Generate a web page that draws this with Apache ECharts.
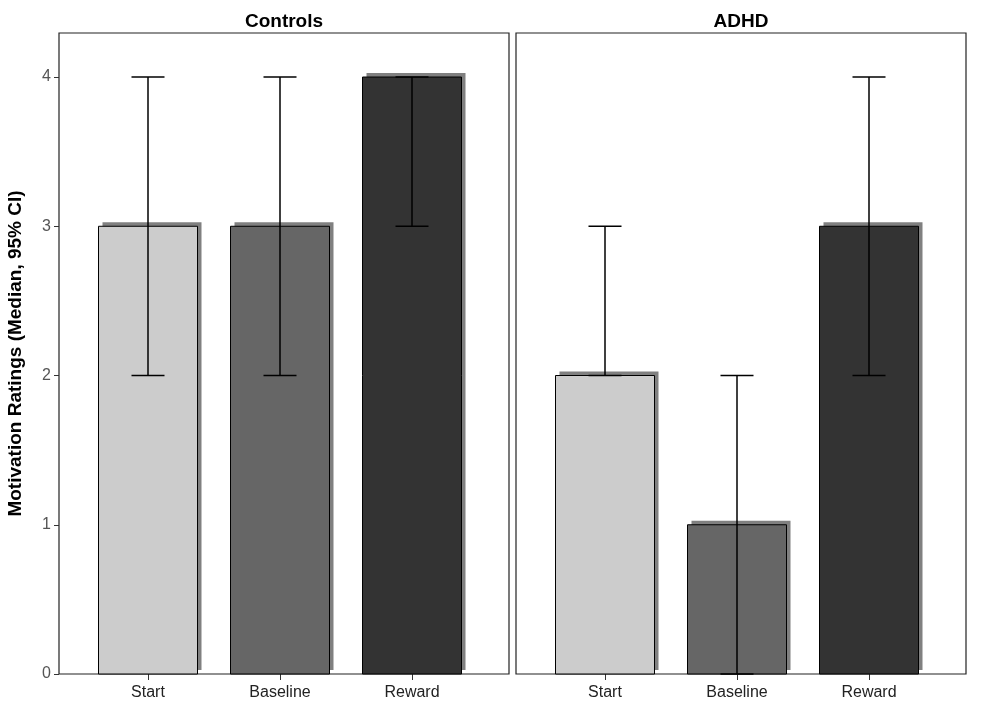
<!DOCTYPE html>
<html>
<head>
<meta charset="utf-8">
<script src="https://cdn.jsdelivr.net/npm/echarts@6/dist/echarts.min.js"></script>
<style>
  html, body { margin: 0; padding: 0; background: #fff; }
  #chart { width: 989px; height: 717px; }
</style>
</head>
<body>
<div id="chart"></div>
<script>
var categories = ['Start', 'Baseline', 'Reward'];
var panelNames = ['Controls', 'ADHD'];

// medians and 95% CI per group
var controlsMedian = [3, 3, 4];
var controlsLow = [2, 2, 3];
var controlsHigh = [4, 4, 4];

var adhdMedian = [2, 1, 3];
var adhdLow = [2, 0, 2];
var adhdHigh = [3, 2, 4];

var yTicks = [0, 1, 2, 3, 4];

(function(){
    var dom = document.getElementById('chart');
    var myChart = echarts.init(dom);
    var font = 'Liberation Sans';
    var barColors = ['#cccccc', '#666666', '#333333'];
    var yMax = 4.295; // leaves the gap above 4 like the original

    var frameTop = 33, frameBottom = 43;
    // outer frames (panel boxes), bar grids inside them
    var frames = [{left: 59, width: 450}, {left: 516, width: 450}];
    var barGrids = [{left: 82, width: 396}, {left: 539, width: 396}];

    function barSeries(gridIdx, values) {
        return {
            type: 'custom',
            xAxisIndex: gridIdx + 2, yAxisIndex: gridIdx + 2,
            z: 5,
            data: values.map(function (v, i) { return [i, v]; }),
            renderItem: function (params, api) {
                var i = api.value(0);
                var top = api.coord([i, api.value(1)]);
                var base = api.coord([i, 0]);
                var w = 99, h = base[1] - top[1], d = 4;
                return {
                    type: 'group',
                    children: [
                        {type: 'rect', shape: {x: top[0] - w / 2 + d, y: top[1] - d, width: w, height: h},
                            style: {fill: '#808080'}},
                        {type: 'rect', shape: {x: top[0] - w / 2, y: top[1], width: w, height: h},
                            style: {fill: barColors[i], stroke: '#000', lineWidth: 1}}
                    ]
                };
            }
        };
    }

    function errorSeries(gridIdx, low, high) {
        return {
            type: 'custom',
            xAxisIndex: gridIdx + 2, yAxisIndex: gridIdx + 2,
            z: 10,
            data: low.map(function (v, i) { return [i, v, high[i]]; }),
            renderItem: function (params, api) {
                var lo = api.coord([api.value(0), api.value(1)]);
                var hi = api.coord([api.value(0), api.value(2)]);
                var hw = 16.5;
                var st = {stroke: '#000', lineWidth: 1.5};
                return {
                    type: 'group',
                    children: [
                        {type: 'line', shape: {x1: lo[0], y1: lo[1], x2: hi[0], y2: hi[1]}, style: st},
                        {type: 'line', shape: {x1: lo[0] - hw, y1: lo[1], x2: lo[0] + hw, y2: lo[1]}, style: st},
                        {type: 'line', shape: {x1: hi[0] - hw, y1: hi[1], x2: hi[0] + hw, y2: hi[1]}, style: st}
                    ]
                };
            }
        };
    }

    var grid = [], xAxis = [], yAxis = [];
    frames.forEach(function (f, i) {
        grid.push({left: f.left, width: f.width, top: frameTop, bottom: frameBottom,
            show: true, borderColor: '#222', borderWidth: 1.2, backgroundColor: 'transparent'});
        xAxis.push({type: 'value', gridIndex: i, min: 0, max: 1, show: false});
        yAxis.push({
            type: 'value', gridIndex: i, min: 0, max: yMax,
            show: i === 0,
            splitLine: {show: false},
            axisLine: {show: false},
            axisTick: {show: true, length: 5, customValues: yTicks, lineStyle: {color: '#333'}},
            axisLabel: {customValues: yTicks, margin: 8, fontFamily: font, fontSize: 16, color: '#555'},
            name: 'Motivation Ratings (Median, 95% CI)',
            nameLocation: 'middle',
            nameGap: 34,
            nameTextStyle: {fontFamily: font, fontSize: 19, fontWeight: 'bold', color: '#000'}
        });
    });
    barGrids.forEach(function (g, i) {
        grid.push({left: g.left, width: g.width, top: frameTop, bottom: frameBottom});
        xAxis.push({
            type: 'category', gridIndex: i + 2, data: categories,
            axisLine: {show: false},
            axisTick: {show: true, alignWithLabel: true, length: 6, lineStyle: {color: '#333'}},
            axisLabel: {margin: 11, fontFamily: font, fontSize: 16, color: '#222'}
        });
        yAxis.push({type: 'value', gridIndex: i + 2, min: 0, max: yMax, show: false});
    });

    var option = {
        backgroundColor: '#fff',
        animation: false,
        graphic: panelNames.map(function (n, i) {
            return {
                type: 'text',
                x: frames[i].left + frames[i].width / 2,
                y: 22,
                style: {text: n, textAlign: 'center', textVerticalAlign: 'middle',
                    font: 'bold 19px "Liberation Sans"', fill: '#000'}
            };
        }),
        grid: grid,
        xAxis: xAxis,
        yAxis: yAxis,
        series: [
            barSeries(0, controlsMedian),
            barSeries(1, adhdMedian),
            errorSeries(0, controlsLow, controlsHigh),
            errorSeries(1, adhdLow, adhdHigh)
        ]
    };
    myChart.setOption(option, true);
})();
</script>
</body>
</html>
